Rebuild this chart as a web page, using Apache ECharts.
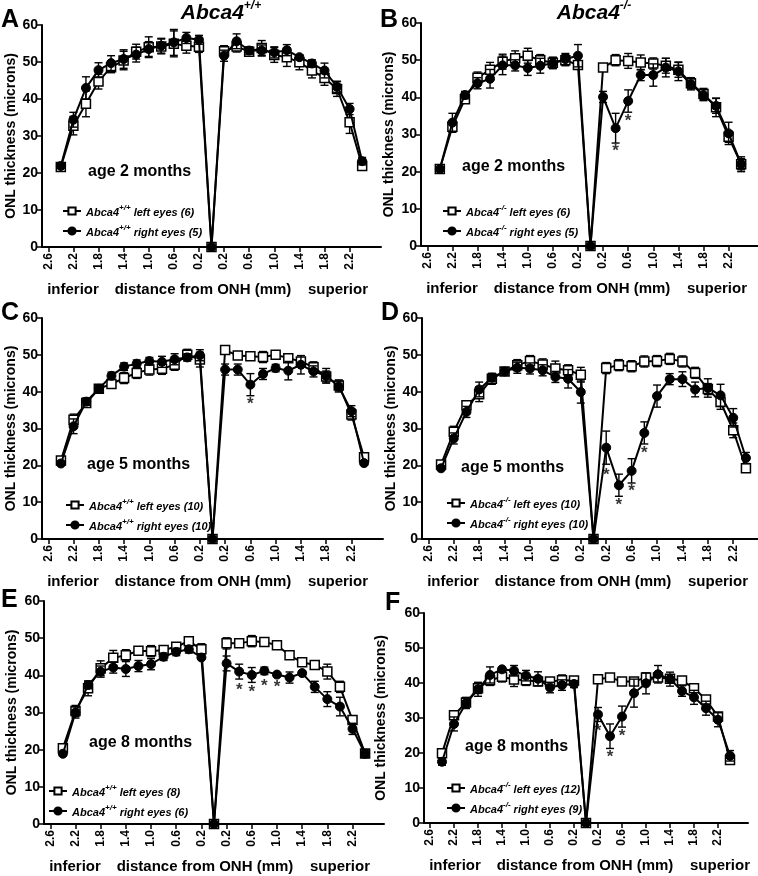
<!DOCTYPE html>
<html><head><meta charset="utf-8">
<script src="https://cdn.jsdelivr.net/npm/echarts@6/dist/echarts.min.js"></script>
<style>html,body{margin:0;padding:0;background:#fff}#c{width:758px;height:876px}</style>
</head><body><div id="c"></div><script>
// distance from ONH (mm); negative = inferior, positive = superior
const xPos = [-2.4,-2.2,-2.0,-1.8,-1.6,-1.4,-1.2,-1.0,-0.8,-0.6,-0.4,-0.2,0,0.2,0.4,0.6,0.8,1.0,1.2,1.4,1.6,1.8,2.0,2.2,2.4];
const xTickValues = [-2.6,-2.2,-1.8,-1.4,-1.0,-0.6,-0.2,0.2,0.6,1.0,1.4,1.8,2.2];
const yTicks = [0,10,20,30,40,50,60];

// Panel A: Abca4+/+ age 2 months
const A_left  = [21.6,32.8,38.7,44.7,48.6,50.4,52.8,54.0,54.2,54.9,54.4,54.1,0,52.9,54.2,52.8,53.8,51.9,51.3,49.9,47.7,45.7,42.7,33.7,21.9];
const A_leftErr  = [0.5,2.5,3.5,2.0,1.5,2.5,2.0,2.8,2.0,3.5,2.0,1.5,0,1.5,1.5,1.0,2.0,2.0,2.5,2.0,2.0,2.0,2.0,3.0,1.0];
const A_right = [21.9,34.4,43.0,47.8,49.7,50.8,52.0,53.5,54.4,55.3,56.5,56.0,0,51.7,55.6,53.1,53.1,52.6,53.2,51.3,49.6,47.7,43.3,37.3,23.2];
const A_rightErr = [0.5,2.0,3.0,2.0,2.0,2.5,2.0,2.0,2.0,3.5,1.5,1.2,0,1.5,2.0,1.0,1.5,1.5,1.5,0.5,1.0,2.0,1.5,1.5,1.0];
const A_stars = [];

// Panel B: Abca4-/- age 2 months
const B_left  = [20.7,32.1,39.5,45.3,47.4,49.6,50.5,51.2,50.0,49.3,50.0,48.7,0,48.0,50.0,49.8,49.4,49.1,48.5,47.4,43.8,40.9,37.3,29.4,22.0];
const B_leftErr  = [0.5,1.5,1.0,1.5,2.0,2.0,2.0,2.0,1.5,1.5,1.5,1.0,0,1.0,1.5,2.0,2.0,1.5,2.0,2.0,1.5,1.5,2.5,1.5,1.5];
const B_right = [20.7,33.2,40.6,43.8,45.0,48.6,48.6,47.9,48.5,49.2,50.3,51.2,0,40.1,31.7,39.0,46.0,46.0,48.0,47.0,43.5,40.6,37.7,30.3,22.0];
const B_rightErr = [0.5,2.5,1.0,1.5,2.5,2.5,1.5,2.0,2.0,1.5,1.5,3.0,0,1.5,4.0,3.0,1.5,3.0,2.5,2.5,1.5,1.5,2.0,3.0,2.0];
const B_stars = [[0.4,26.7],[0.6,34.8]];

// Panel C: Abca4+/+ age 5 months
const C_left  = [21.3,32.4,36.9,40.8,42.1,43.7,45.1,46.0,46.2,47.3,50.0,48.7,0,51.3,49.8,49.6,49.4,50.0,49.1,48.2,46.6,44.1,41.7,33.8,22.2];
const C_leftErr  = [0.5,1.5,1.0,1.0,1.0,1.5,1.5,1.5,1.5,1.5,1.5,2.0,0,1.0,1.0,1.0,1.5,1.0,1.0,1.0,1.5,1.5,1.5,1.5,1.0];
const C_right = [20.5,30.6,37.3,40.8,44.3,46.8,47.6,48.3,48.1,48.8,49.3,49.9,0,46.0,46.0,41.9,44.8,46.4,45.7,47.3,45.5,44.3,41.4,34.7,20.6];
const C_rightErr = [0.5,2.0,1.0,1.0,1.0,1.0,1.0,1.0,1.5,1.5,1.0,1.5,0,1.5,1.5,3.0,1.5,1.0,2.5,2.5,1.5,2.0,1.5,1.5,0.5];
const C_stars = [[0.6,37.8]];

// Panel D: Abca4-/- age 5 months
const D_left  = [20.2,29.1,36.3,39.3,43.5,45.5,47.2,48.3,47.4,46.3,45.8,44.6,0,46.4,47.2,46.9,48.2,48.3,48.9,48.2,45.1,40.7,37.2,29.5,19.2];
const D_leftErr  = [0.5,1.5,1.0,2.0,1.5,1.0,1.5,1.5,1.5,2.0,1.5,2.0,0,1.5,1.5,1.5,1.5,1.5,1.5,1.5,1.5,1.5,2.0,2.0,1.0];
const D_right = [19.2,27.3,34.5,40.6,43.8,45.5,46.5,46.3,45.8,44.0,43.5,39.9,0,24.8,14.6,18.5,28.8,38.8,43.4,43.4,40.6,41.0,39.0,32.9,22.0];
const D_rightErr = [0.5,1.5,1.5,2.0,1.0,1.0,1.5,1.5,1.5,1.5,2.5,3.0,0,4.5,3.0,3.3,3.0,3.0,1.5,2.0,2.0,2.5,3.0,2.5,1.5];
const D_stars = [[0.2,18.7],[0.4,10.6],[0.6,14.4],[0.8,24.6]];

// Panel E: Abca4+/+ age 8 months
const E_left  = [20.4,30.4,36.5,41.9,44.7,45.4,46.6,46.5,46.8,47.7,49.2,47.0,0,48.6,48.6,49.2,49.0,48.1,45.4,43.5,42.8,41.0,36.9,28.0,19.0];
const E_leftErr  = [0.5,1.5,2.0,2.0,2.0,1.5,1.0,1.5,1.0,1.0,1.2,1.5,0,1.5,1.0,1.5,1.0,0.5,0.5,0.5,0.5,2.0,1.5,1.0,1.0];
const E_right = [18.9,30.0,37.4,41.0,42.1,41.7,42.5,43.0,45.0,46.3,47.0,44.8,0,43.2,41.0,40.1,41.2,40.2,39.4,40.6,36.9,33.6,31.6,25.6,18.9];
const E_rightErr = [0.5,1.5,1.0,1.5,1.5,2.0,1.5,1.5,1.0,1.0,1.0,0.5,0,2.0,2.0,2.0,1.0,0.5,1.5,0.5,1.5,2.0,2.5,1.5,1.0];
const E_stars = [[0.4,37.4],[0.6,36.8],[0.8,38.5],[1.0,38.0]];

// Panel F: Abca4-/- age 8 months
const F_left  = [19.9,30.8,34.4,38.5,40.8,41.8,41.0,40.8,40.4,40.4,40.8,40.7,0,41.1,41.6,40.4,40.4,41.6,41.6,41.2,40.7,38.5,35.3,30.4,18.0];
const F_leftErr  = [0.5,0.5,1.5,1.5,1.5,1.5,2.0,1.5,1.0,1.0,1.5,1.0,0,0.5,0.5,1.0,1.0,1.0,1.0,1.0,1.0,0.5,1.0,1.0,1.0];
const F_right = [17.5,28.3,34.2,38.2,42.3,43.9,43.5,42.1,41.2,38.7,39.4,39.7,0,31.0,24.8,30.4,37.1,39.9,42.5,41.1,37.7,35.9,32.8,29.5,19.2];
const F_rightErr = [1.0,2.0,1.5,2.0,2.3,0.5,1.5,1.5,2.0,1.5,1.5,1.0,0,2.0,3.5,3.0,4.0,3.0,2.5,2.0,1.5,2.0,2.0,2.0,1.5];
const F_stars = [[0.2,27.5],[0.4,20.2],[0.6,26.1]];

const panelLetters = ['A','B','C','D','E','F'];
const genotypes = ['+/+','-/-','+/+','-/-','+/+','-/-'];
const ages = ['age 2 months','age 2 months','age 5 months','age 5 months','age 8 months','age 8 months'];
const nLeft = [6,6,10,10,8,12];
const nRight = [5,5,10,10,6,9];
const leftData = [A_left,B_left,C_left,D_left,E_left,F_left];
const leftErr = [A_leftErr,B_leftErr,C_leftErr,D_leftErr,E_leftErr,F_leftErr];
const rightData = [A_right,B_right,C_right,D_right,E_right,F_right];
const rightErr = [A_rightErr,B_rightErr,C_rightErr,D_rightErr,E_rightErr,F_rightErr];
const stars = [A_stars,B_stars,C_stars,D_stars,E_stars,F_stars];

// layout (pixels)
const layout = [
  {grid:{left:42,top:25,width:339,height:222}, legend:[62,204], age:[88,172], letter:[1,8], nameGap:23},
  {grid:{left:421,top:23,width:339,height:223}, legend:[442,204], age:[462,167], letter:[380,8], nameGap:25},
  {grid:{left:42,top:318,width:341,height:221}, legend:[65,498], age:[87,465], letter:[1,301], nameGap:23},
  {grid:{left:422,top:318,width:343,height:221}, legend:[446,496], age:[461,468], letter:[381,301], nameGap:24},
  {grid:{left:44,top:601,width:340,height:223}, legend:[48,784], age:[89,743], letter:[1,588], nameGap:25},
  {grid:{left:424,top:613,width:324,height:210}, legend:[446,781], age:[465,747], letter:[385,591], nameGap:36}
];

const FONT = 'Liberation Sans, Arial, Helvetica, sans-serif';
const grids = [], xAxes = [], yAxes = [], series = [], legends = [], graphics = [];

function errRender(params, api) {
  const x = api.value(0), lo = api.value(1), hi = api.value(2);
  const p1 = api.coord([x, hi]), p2 = api.coord([x, lo]);
  const w = 4;
  const st = {stroke:'#000', lineWidth:1.4};
  return {type:'group', children:[
    {type:'line', shape:{x1:p1[0],y1:p1[1],x2:p2[0],y2:p2[1]}, style:st},
    {type:'line', shape:{x1:p1[0]-w,y1:p1[1],x2:p1[0]+w,y2:p1[1]}, style:st},
    {type:'line', shape:{x1:p2[0]-w,y1:p2[1],x2:p2[0]+w,y2:p2[1]}, style:st}
  ]};
}

layout.forEach((L, i) => {
  grids.push(Object.assign({outerBoundsMode:'none', containLabel:false}, L.grid));
  xAxes.push({
    type:'value', gridIndex:i, min:-2.7, max:2.7,
    axisLine:{show:true, onZero:false, lineStyle:{color:'#000', width:2}},
    axisTick:{show:true, customValues:xTickValues, length:5, lineStyle:{color:'#000', width:1.5}},
    axisLabel:{customValues:xTickValues, rotate:90, margin:6, color:'#000', fontSize:12, fontWeight:'bold', fontFamily:FONT,
      formatter:v => Math.abs(v).toFixed(1)},
    splitLine:{show:false}
  });
  yAxes.push({
    type:'value', gridIndex:i, min:0, max:60, interval:10,
    name:'ONL thickness (microns)', nameLocation:'middle', nameGap:L.nameGap,
    nameTextStyle:{color:'#000', fontSize:14, fontWeight:'bold', fontFamily:FONT},
    axisLine:{show:true, onZero:false, lineStyle:{color:'#000', width:2}},
    axisTick:{show:true, length:5, lineStyle:{color:'#000', width:1.5}},
    axisLabel:{color:'#000', fontSize:14, fontWeight:'bold', fontFamily:FONT, margin:4},
    splitLine:{show:false}
  });
  const gt = genotypes[i];
  const nameL = 'Abca4' + gt + ' left eyes (' + nLeft[i] + ')';
  const nameR = 'Abca4' + gt + ' right eyes (' + nRight[i] + ')';
  const lD = leftData[i], rD = rightData[i], lE = leftErr[i], rE = rightErr[i];
  series.push({
    name:nameL, type:'line', xAxisIndex:i, yAxisIndex:i, z:3,
    data:xPos.map((x,k)=>[x, lD[k]]),
    symbol:'rect', symbolSize:9, showAllSymbol:true,
    itemStyle:{color:'#fff', borderColor:'#000', borderWidth:1.5},
    lineStyle:{color:'#000', width:2}
  });
  series.push({
    name:nameL + ' err', type:'custom', xAxisIndex:i, yAxisIndex:i, z:2,
    renderItem:errRender, encode:{x:0, y:[1,2]},
    data:xPos.map((x,k)=>[x, lD[k]-lE[k], lD[k]+lE[k], lE[k]]).filter(d=>d[3]>0)
  });
  series.push({
    name:nameR, type:'line', xAxisIndex:i, yAxisIndex:i, z:5,
    data:xPos.map((x,k)=>[x, rD[k]]),
    symbol:'circle', symbolSize:9, showAllSymbol:true,
    itemStyle:{color:'#000', borderColor:'#000', borderWidth:1},
    lineStyle:{color:'#000', width:2}
  });
  series.push({
    name:nameR + ' err', type:'custom', xAxisIndex:i, yAxisIndex:i, z:4,
    renderItem:errRender, encode:{x:0, y:[1,2]},
    data:xPos.map((x,k)=>[x, rD[k]-rE[k], rD[k]+rE[k], rE[k]]).filter(d=>d[3]>0)
  });
  series.push({
    name:'stars' + i, type:'scatter', xAxisIndex:i, yAxisIndex:i, z:6,
    symbolSize:1, itemStyle:{color:'rgba(0,0,0,0)'},
    data:stars[i],
    label:{show:true, position:'inside', formatter:'*', offset:[0,5], color:'#000', fontSize:17, fontWeight:'bold', fontFamily:FONT}
  });
  legends.push({
    data:[nameL, nameR], orient:'vertical', left:L.legend[0], top:L.legend[1],
    itemWidth:18, itemHeight:9, itemGap:6, padding:0, selectedMode:false,
    formatter:name => {
      const rest = name.slice(('Abca4' + gt).length);
      return '{a|Abca4}{s|' + gt + '}{a|' + rest + '}';
    },
    textStyle:{color:'#000', fontFamily:FONT, rich:{
      a:{fontSize:11, fontWeight:'bold', fontStyle:'italic', color:'#000', fontFamily:FONT, verticalAlign:'bottom', lineHeight:14},
      s:{fontSize:8, fontWeight:'bold', fontStyle:'italic', color:'#000', fontFamily:FONT, verticalAlign:'top', lineHeight:14}
    }}
  });
  graphics.push({type:'text', x:L.age[0], y:L.age[1], style:{text:ages[i], font:'bold 16px ' + FONT, fill:'#000', align:'left', verticalAlign:'middle'}});
  graphics.push({type:'text', x:L.letter[0], y:L.letter[1], style:{text:panelLetters[i], font:'bold 25px ' + FONT, fill:'#000', align:'left', verticalAlign:'top'}});
  const zeroY = L.grid.top + L.grid.height;
  const gl = L.grid.left;
  const axTitleFont = 'bold 15px ' + FONT;
  graphics.push({type:'text', x:gl + 31, y:zeroY + 43, style:{text:'inferior', font:axTitleFont, fill:'#000', align:'center', verticalAlign:'middle'}});
  graphics.push({type:'text', x:gl + 161, y:zeroY + 43, style:{text:'distance from ONH (mm)', font:axTitleFont, fill:'#000', align:'center', verticalAlign:'middle'}});
  graphics.push({type:'text', x:gl + 296, y:zeroY + 43, style:{text:'superior', font:axTitleFont, fill:'#000', align:'center', verticalAlign:'middle'}});
});

const titleRich = {
  a:{fontSize:21, fontWeight:'bold', fontStyle:'italic', fill:'#000', fontFamily:FONT, verticalAlign:'bottom', lineHeight:24},
  s:{fontSize:12, fontWeight:'bold', fontStyle:'italic', fill:'#000', fontFamily:FONT, verticalAlign:'top', lineHeight:24}
};
graphics.push({type:'text', x:221, y:0, style:{text:'{a|Abca4}{s|+/+}', rich:titleRich, fill:'#000', align:'center', verticalAlign:'top'}});
graphics.push({type:'text', x:594, y:0, style:{text:'{a|Abca4}{s|-/-}', rich:titleRich, fill:'#000', align:'center', verticalAlign:'top'}});

const chart = echarts.init(document.getElementById('c'), null, {renderer:'canvas'});
chart.setOption({
  backgroundColor:'#fff', animation:false,
  grid:grids, xAxis:xAxes, yAxis:yAxes, series:series, legend:legends, graphic:graphics
});
</script></body></html>
